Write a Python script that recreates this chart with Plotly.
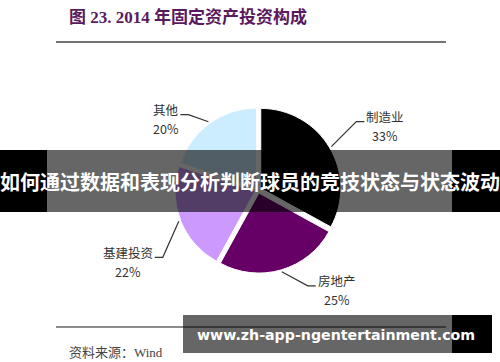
import numpy as np
import plotly.graph_objects as go

# ---- data ----
categories = ["制造业", "房地产", "基建投资", "其他"]
shares = [33, 25, 22, 20]
pct_labels = ["33%", "25%", "22%", "20%"]
title_text = "图 23. 2014 年固定资产投资构成"
source_text = "资料来源：Wind"
banner_text = "如何通过数据和表现分析判断球员的竞技状态与状态波动"
watermark_text = "www.zh-app-ngentertainment.com"

# ---- style / layout ----
W, H = 500, 362
colors = ["#000000", "#660066", "#CC99FF", "#CCECFF"]
pulls = [0.04, 0.04, 0.04, 0.03]
CX, CY, R = 258, 190, 80          # pie centre / radius in pixels
label_offsets = [(25, -25), (26, 14), (-16, 36), (-20, -7)]  # elbow offsets (px)

def px(x):
    return x / W

def py(y):
    return 1 - y / H

half = R * (1 + max(pulls))
fig = go.Figure(go.Pie(
    labels=categories, values=shares, sort=False, direction="clockwise",
    rotation=0, pull=pulls, textinfo="none", hoverinfo="label+percent",
    marker=dict(colors=colors, line=dict(color="white", width=1)),
    domain=dict(x=[px(CX - half), px(CX + half)], y=[py(CY + half), py(CY - half)]),
    showlegend=False,
))

shapes = []
annotations = []
label_font = dict(family="Noto Sans CJK SC, Arial", size=12.5, color="#333333")

# leader lines and labels computed from slice mid-angles
vals = np.array(shares, dtype=float)
frac = vals / vals.sum()
starts = np.concatenate([[0], np.cumsum(frac)[:-1]])
mids = (starts + frac / 2) * 2 * np.pi
for i, ang in enumerate(mids):
    dx, dy = np.sin(ang), -np.cos(ang)
    rr = R * (1 + pulls[i]) + 2
    ax, ay = CX + rr * dx, CY + rr * dy
    ex, ey = ax + label_offsets[i][0], ay + label_offsets[i][1]
    side = 1 if dx > 0 else -1
    hx = ex + side * 8
    shapes.append(dict(type="path", xref="paper", yref="paper",
                       path=f"M {px(ax)},{py(ay)} L {px(ex)},{py(ey)} L {px(hx)},{py(ey)}",
                       line=dict(color="#333333", width=1.2)))
    # name line, then percentage line centred under it
    name_w = len(categories[i]) * 12.5
    cxl = hx + side * (2 + name_w / 2)
    annotations.append(dict(x=px(cxl), y=py(ey - 5), xref="paper", yref="paper",
                            xanchor="center", yanchor="middle", showarrow=False, borderpad=0,
                            text=categories[i], font=label_font))
    annotations.append(dict(x=px(cxl), y=py(ey + 14), xref="paper", yref="paper",
                            xanchor="center", yanchor="middle", showarrow=False, borderpad=0,
                            text=pct_labels[i], font=label_font))

# title and rules
annotations.append(dict(x=px(67), y=py(17), xref="paper", yref="paper",
                        xanchor="left", yanchor="middle", showarrow=False,
                        text=f"<b>{title_text}</b>",
                        font=dict(family="Liberation Serif, Noto Sans CJK SC", size=17, color="#5A1A5E")))
shapes.append(dict(type="line", xref="paper", yref="paper", x0=px(56), x1=px(446),
                   y0=py(42), y1=py(42), line=dict(color="#444444", width=1.5)))
shapes.append(dict(type="line", xref="paper", yref="paper", x0=px(56), x1=px(446),
                   y0=py(327), y1=py(327), line=dict(color="#666666", width=1.5)))
annotations.append(dict(x=px(67), y=py(352), xref="paper", yref="paper",
                        xanchor="left", yanchor="middle", showarrow=False,
                        text=source_text,
                        font=dict(family="Liberation Serif, Noto Sans CJK SC", size=13, color="#444444")))

# banner overlay
for x0, x1, fill in [(0, 47, "rgba(0,0,0,1)"), (47, 452, "rgba(0,0,0,0.6)"), (452, 500, "rgba(0,0,0,1)")]:
    shapes.append(dict(type="rect", xref="paper", yref="paper", x0=px(x0), x1=px(x1),
                       y0=py(212), y1=py(150), fillcolor=fill, line=dict(width=0), layer="above"))
annotations.append(dict(x=0.5, y=py(181), xref="paper", yref="paper", xanchor="center",
                        yanchor="middle", showarrow=False, text=f"<b>{banner_text}</b>",
                        font=dict(family="Noto Sans CJK SC", size=20, color="white")))

# watermark overlay
for x0, x1, fill in [(183, 452, "rgba(0,0,0,0.6)"), (452, 492, "rgba(0,0,0,1)")]:
    shapes.append(dict(type="rect", xref="paper", yref="paper", x0=px(x0), x1=px(x1),
                       y0=py(353), y1=py(315), fillcolor=fill, line=dict(width=0), layer="above"))
annotations.append(dict(x=px(335.5), y=py(335), xref="paper", yref="paper", xanchor="center",
                        yanchor="middle", showarrow=False, text=f"<b>{watermark_text}</b>",
                        font=dict(family="DejaVu Sans", size=14.2, color="white")))

fig.update_layout(width=W, height=H, margin=dict(l=0, r=0, t=0, b=0),
                  paper_bgcolor="white", plot_bgcolor="white",
                  shapes=shapes, annotations=annotations)
fig.write_html("out.html", config={"displayModeBar": False},
               post_script="document.body.style.margin='0';document.body.style.overflow='hidden';")
